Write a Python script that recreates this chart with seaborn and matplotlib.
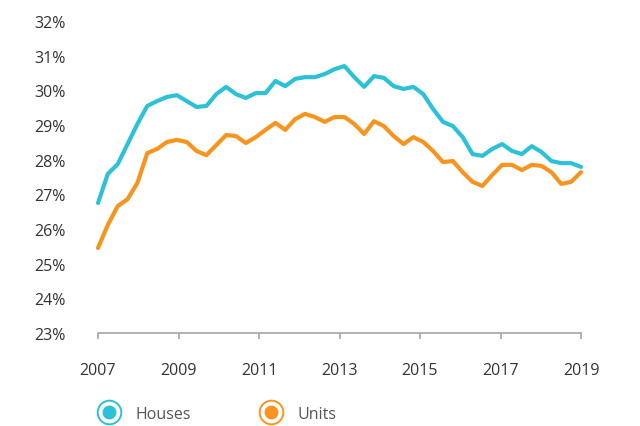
import matplotlib
matplotlib.use("Agg")
from matplotlib import pyplot as plt
from matplotlib.lines import Line2D
from matplotlib.legend_handler import HandlerTuple
from matplotlib.ticker import FuncFormatter
import seaborn as sns
import numpy as np
import pandas as pd

# quarterly share (%), 2007 -> 2019
houses = [26.75, 27.59, 27.87, 28.45, 29.03, 29.55, 29.69, 29.81, 29.86, 29.69,
          29.52, 29.55, 29.89, 30.10, 29.89, 29.78, 29.92, 29.92, 30.27, 30.12,
          30.33, 30.38, 30.38, 30.47, 30.61, 30.70, 30.38, 30.10, 30.41, 30.36,
          30.12, 30.04, 30.10, 29.89, 29.46, 29.09, 28.97, 28.65, 28.16, 28.11,
          28.31, 28.45, 28.25, 28.16, 28.39, 28.22, 27.96, 27.90, 27.90, 27.79]
units = [25.45, 26.12, 26.66, 26.86, 27.33, 28.19, 28.31, 28.51, 28.57, 28.51,
         28.25, 28.13, 28.42, 28.71, 28.68, 28.48, 28.65, 28.86, 29.06, 28.86,
         29.17, 29.32, 29.23, 29.09, 29.23, 29.23, 29.03, 28.74, 29.11, 28.97,
         28.68, 28.45, 28.65, 28.51, 28.25, 27.93, 27.96, 27.64, 27.36, 27.24,
         27.56, 27.85, 27.85, 27.70, 27.85, 27.82, 27.64, 27.30, 27.36, 27.64]
year_pos = np.linspace(2007, 2019, len(houses))
year_ticks = [2007, 2009, 2011, 2013, 2015, 2017, 2019]
pct_ticks = list(range(23, 33))

colors = {"Houses": "#2CC1D6", "Units": "#F7941E"}

df = pd.concat([
    pd.DataFrame({"year": year_pos, "share": houses, "type": "Houses"}),
    pd.DataFrame({"year": year_pos, "share": units, "type": "Units"}),
])

sns.set_style("white")
plt.rcParams["font.family"] = ["Open Sans", "DejaVu Sans"]

fig = plt.figure(figsize=(6.4, 4.27), dpi=100)
ax = fig.add_axes([98 / 640, 1 - 334 / 427, (581 - 98) / 640, (334 - 22) / 427])

sns.lineplot(data=df, x="year", y="share", hue="type", palette=colors,
             linewidth=3, ax=ax, legend=False)
for ln in ax.lines:
    ln.set_clip_on(False)
    ln.set_solid_joinstyle("round")

ax.set_xlim(2007, 2019)
ax.set_ylim(23, 32)
ax.set_xticks(year_ticks)
ax.set_yticks(pct_ticks)
ax.yaxis.set_major_formatter(FuncFormatter(lambda v, p: f"{v:.0f}%"))
ax.set_xlabel("")
ax.set_ylabel("")

for s in ["top", "right", "left"]:
    ax.spines[s].set_visible(False)
ax.spines["bottom"].set_color("#A6A6A6")
ax.spines["bottom"].set_linewidth(1.2)

ax.tick_params(axis="y", left=False, length=0, pad=23, labelsize=11.5, labelcolor="#333333")
ax.tick_params(axis="x", bottom=True, direction="out", length=4, width=1.2, color="#A6A6A6",
               pad=17, labelsize=11.5, labelcolor="#333333")

handles = []
for name in ["Houses", "Units"]:
    c = colors[name]
    ring = Line2D([], [], marker="o", ms=17, mfc="white", mec=c, mew=1.4, ls="")
    dot = Line2D([], [], marker="o", ms=9, color=c, ls="")
    handles.append((ring, dot))

fig.legend(handles, ["Houses", "Units"], handler_map={tuple: HandlerTuple(ndivide=1)},
           loc="center left", bbox_to_anchor=(98 / 640, 1 - 415 / 427), ncol=2,
           frameon=False, fontsize=11.5, labelcolor="#555555", borderpad=0,
           borderaxespad=0, handlelength=1.4, handletextpad=0.95, columnspacing=4.3)

fig.savefig("out.png", dpi=100)
